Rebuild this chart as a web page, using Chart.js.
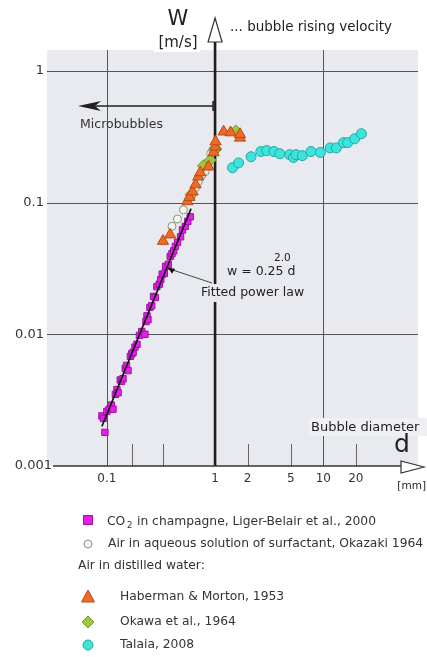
<!DOCTYPE html>
<html>
<head>
<meta charset="utf-8">
<script src="https://cdn.jsdelivr.net/npm/chart.js@4/dist/chart.umd.min.js"></script>
<style>
  body { margin: 0; background: #fff; }
  #wrap { width: 427px; height: 657px; }
</style>
</head>
<body>
<div id="wrap"><canvas id="bubbleChart" width="427" height="657"></canvas></div>
<script>
// values (d in mm, w in m/s)
const co2D = [0.090, 0.093, 0.096, 0.100, 0.105, 0.110, 0.114, 0.120, 0.124, 0.127, 0.133, 0.137, 0.141, 0.148, 0.152, 0.157, 0.165, 0.170, 0.175, 0.182, 0.19, 0.20, 0.21, 0.225, 0.23, 0.235, 0.24, 0.25, 0.26, 0.27, 0.28, 0.29, 0.305, 0.315, 0.325, 0.34, 0.35, 0.37, 0.385, 0.40, 0.415, 0.43, 0.45, 0.48, 0.50, 0.53, 0.56, 0.59];
const co2W = [0.0024, 0.0023, 0.0018, 0.0026, 0.0027, 0.0029, 0.0027, 0.0035, 0.0038, 0.0036, 0.0045, 0.0044, 0.0046, 0.0055, 0.0058, 0.0053, 0.0068, 0.0071, 0.0073, 0.0080, 0.0084, 0.0098, 0.0105, 0.0100, 0.0125, 0.0138, 0.0129, 0.0160, 0.0165, 0.0194, 0.0190, 0.0230, 0.0240, 0.0260, 0.0286, 0.0290, 0.0328, 0.0340, 0.0390, 0.0410, 0.0430, 0.0465, 0.0500, 0.0550, 0.0620, 0.0660, 0.0720, 0.0780];

const okazakiD = [0.40, 0.45, 0.51, 0.60, 0.66, 0.70, 0.76, 0.81, 0.87, 0.91, 0.95];
const okazakiW = [0.066, 0.075, 0.088, 0.11, 0.13, 0.144, 0.163, 0.172, 0.20, 0.235, 0.25];

const habermanD = [0.33, 0.385, 0.555, 0.58, 0.62, 0.66, 0.70, 0.73, 0.87, 0.97, 1.0, 1.01, 1.2, 1.39, 1.7, 1.7];
const habermanW = [0.051, 0.057, 0.102, 0.11, 0.121, 0.137, 0.157, 0.169, 0.187, 0.24, 0.265, 0.29, 0.345, 0.34, 0.31, 0.33];

const okawaD = [0.60, 0.78, 0.90, 1.02, 1.55];
const okawaW = [0.115, 0.19, 0.21, 0.255, 0.35];

const talaiaD = [1.45, 1.65, 2.15, 2.65, 3.0, 3.5, 3.97, 4.9, 5.3, 5.6, 6.4, 7.7, 9.4, 11.6, 13.2, 15.4, 16.8, 19.5, 22.5];
const talaiaW = [0.184, 0.20, 0.223, 0.244, 0.248, 0.244, 0.235, 0.231, 0.22, 0.231, 0.227, 0.244, 0.24, 0.26, 0.26, 0.285, 0.285, 0.305, 0.333];

// fitted power law w = 0.25 d^2, end points
const fitD = [0.09, 0.6];
const fitW = [0.002, 0.09];

const xTickVals = [0.1, 1, 2, 5, 10, 20];
const xTickLabels = ['0.1', '1', '2', '5', '10', '20'];
const xMinorTicks = [0.17, 0.33, 2, 5, 20];
const yTickVals = [1, 0.1, 0.01, 0.001];
const yTickLabels = ['1', '0.1', '0.01', '0.001'];
const xGrid = [0.1, 10];
const yGrid = [1, 0.1, 0.01];

const FONT = '"DejaVu Sans", sans-serif';
const PLOT_BG = '#e8eaf0';

function pts(xs, ys) {
    return xs.map((x, i) => ({ x: x, y: ys[i] }));
}

function txt(ctx, s, x, y, size, align, color) {
    ctx.font = size + 'px ' + FONT;
    ctx.textAlign = align || 'left';
    ctx.textBaseline = 'middle';
    ctx.fillStyle = color || '#333';
    ctx.fillText(s, x, y);
}

function marker(ctx, kind, x, y) {
    ctx.save();
    ctx.lineWidth = 1;
    ctx.beginPath();
    if (kind === 'rect') {
        ctx.fillStyle = '#e81ee8'; ctx.strokeStyle = '#a010a8';
        ctx.rect(x - 4.5, y - 4.5, 9, 9);
    } else if (kind === 'okazaki') {
        ctx.fillStyle = '#f3f7ee'; ctx.strokeStyle = '#7f977a';
        ctx.arc(x, y, 4, 0, Math.PI * 2);
    } else if (kind === 'tri') {
        ctx.fillStyle = '#ef6a22'; ctx.strokeStyle = '#b8481c';
        ctx.moveTo(x, y - 7); ctx.lineTo(x + 6.5, y + 5); ctx.lineTo(x - 6.5, y + 5); ctx.closePath();
    } else if (kind === 'diamond') {
        ctx.fillStyle = '#9bc63e'; ctx.strokeStyle = '#76a02c';
        ctx.moveTo(x, y - 6); ctx.lineTo(x + 6, y); ctx.lineTo(x, y + 6); ctx.lineTo(x - 6, y); ctx.closePath();
    } else {
        ctx.fillStyle = '#3ee3dc'; ctx.strokeStyle = '#1fa9a6';
        ctx.arc(x, y, 5, 0, Math.PI * 2);
    }
    ctx.fill();
    ctx.stroke();
    ctx.restore();
}

const framePlugin = {
    id: 'frame',
    beforeDraw(chart) {
        const ctx = chart.ctx, a = chart.chartArea;
        const xs = chart.scales.x, ys = chart.scales.y;
        ctx.save();
        ctx.fillStyle = '#fff';
        ctx.fillRect(0, 0, chart.width, chart.height);
        ctx.fillStyle = PLOT_BG;
        ctx.fillRect(a.left, a.top, a.right - a.left, a.bottom - a.top);

        ctx.strokeStyle = '#555';
        ctx.lineWidth = 1;
        yGrid.forEach(v => {
            const y = Math.round(ys.getPixelForValue(v)) + 0.5;
            ctx.beginPath(); ctx.moveTo(a.left, y); ctx.lineTo(a.right, y); ctx.stroke();
        });
        xGrid.forEach(v => {
            const x = Math.round(xs.getPixelForValue(v)) + 0.5;
            ctx.beginPath(); ctx.moveTo(x, a.top); ctx.lineTo(x, a.bottom); ctx.stroke();
        });
        // short ticks above the d axis
        ctx.strokeStyle = '#666';
        xMinorTicks.forEach(v => {
            const x = Math.round(xs.getPixelForValue(v)) + 0.5;
            ctx.beginPath(); ctx.moveTo(x, a.bottom - 22); ctx.lineTo(x, a.bottom); ctx.stroke();
        });
        ctx.restore();
    },
    beforeDatasetsDraw(chart) {
        const ctx = chart.ctx, a = chart.chartArea;
        const xs = chart.scales.x;
        const x1 = xs.getPixelForValue(1);
        ctx.save();
        // vertical w axis at d = 1
        ctx.strokeStyle = '#1e1e1e';
        ctx.lineWidth = 2.6;
        ctx.beginPath(); ctx.moveTo(x1, a.bottom); ctx.lineTo(x1, 30); ctx.stroke();
        ctx.restore();
    },
    afterDatasetsDraw(chart) {
        const ctx = chart.ctx;
        const xs = chart.scales.x, ys = chart.scales.y;
        const x1 = xs.getPixelForValue(1);
        const y0 = ys.getPixelForValue(0.001);
        ctx.save();

        // open arrow head on w axis
        ctx.fillStyle = '#fff';
        ctx.strokeStyle = '#333';
        ctx.lineWidth = 1.2;
        ctx.beginPath();
        ctx.moveTo(x1, 18); ctx.lineTo(x1 + 7, 42); ctx.lineTo(x1 - 7, 42); ctx.closePath();
        ctx.fill(); ctx.stroke();

        // d axis with open arrow
        ctx.strokeStyle = '#333';
        ctx.lineWidth = 1.5;
        ctx.beginPath(); ctx.moveTo(53, y0); ctx.lineTo(401, y0); ctx.stroke();
        ctx.lineWidth = 1.2;
        ctx.beginPath();
        ctx.moveTo(424, y0 + 1); ctx.lineTo(401, y0 - 5); ctx.lineTo(401, y0 + 7); ctx.closePath();
        ctx.fill(); ctx.stroke();

        // tick labels
        xTickVals.forEach((v, i) => txt(ctx, xTickLabels[i], xs.getPixelForValue(v), 479, 12, 'center', '#333'));
        yTickVals.forEach((v, i) => {
            const right = v === 0.001 ? 52 : 44;
            txt(ctx, yTickLabels[i], right, ys.getPixelForValue(v), 13, 'right', '#333');
        });

        // axis titles
        ctx.fillStyle = '#fff';
        ctx.fillRect(154, 30, 46, 22);
        txt(ctx, 'W', 178, 20, 21, 'center', '#222');
        txt(ctx, '[m/s]', 178, 43, 15, 'center', '#222');
        txt(ctx, '... bubble rising velocity', 230, 27, 13.5, 'left', '#222');

        ctx.fillStyle = '#eff0f3';
        ctx.fillRect(309, 418, 118, 18);
        txt(ctx, 'Bubble diameter', 311, 428, 13, 'left', '#222');
        txt(ctx, 'd', 402, 445, 25, 'center', '#222');
        txt(ctx, '[mm]', 426, 486, 10.5, 'right', '#222');

        // microbubbles arrow
        const yArr = 106;
        ctx.strokeStyle = '#222';
        ctx.fillStyle = '#222';
        ctx.lineWidth = 1.6;
        ctx.beginPath(); ctx.moveTo(84, yArr); ctx.lineTo(x1 - 2, yArr); ctx.stroke();
        ctx.beginPath(); ctx.moveTo(x1 - 2, yArr - 5); ctx.lineTo(x1 - 2, yArr + 5); ctx.stroke();
        ctx.beginPath();
        ctx.moveTo(78, yArr); ctx.lineTo(101, yArr - 5); ctx.lineTo(95, yArr); ctx.lineTo(101, yArr + 5); ctx.closePath();
        ctx.fill();
        txt(ctx, 'Microbubbles', 80, 125, 12.5, 'left', '#333');

        // fitted power law note
        ctx.fillStyle = PLOT_BG;
        ctx.fillRect(199, 284, 106, 18);
        ctx.strokeStyle = '#444';
        ctx.lineWidth = 1;
        const px = xs.getPixelForValue(0.36), py = ys.getPixelForValue(0.032);
        ctx.beginPath(); ctx.moveTo(px + 2, py + 1); ctx.lineTo(212, 283); ctx.stroke();
        ctx.fillStyle = '#111';
        ctx.beginPath();
        ctx.moveTo(px + 1, py); ctx.lineTo(px + 8, py + 1); ctx.lineTo(px + 5, py + 6); ctx.closePath();
        ctx.fill();
        txt(ctx, 'w = 0.25 d', 227, 272, 12.5, 'left', '#222');
        txt(ctx, '2.0', 274, 258, 10.5, 'left', '#222');
        txt(ctx, 'Fitted power law', 201, 293, 12.5, 'left', '#222');

        // legend
        const mx = 88;
        const fs = 12.3;
        marker(ctx, 'rect', mx, 520);
        txt(ctx, 'CO', 107, 522, fs, 'left', '#333');
        txt(ctx, '2', 127, 526, 8.5, 'left', '#333');
        txt(ctx, 'in champagne, Liger-Belair et al., 2000', 137, 522, fs, 'left', '#333');
        marker(ctx, 'okazaki', mx, 544);
        txt(ctx, 'Air in aqueous solution of surfactant, Okazaki 1964', 108, 544, fs, 'left', '#333');
        txt(ctx, 'Air in distilled water:', 78, 566, fs, 'left', '#333');
        marker(ctx, 'tri', mx, 597);
        txt(ctx, 'Haberman & Morton, 1953', 120, 597, fs, 'left', '#333');
        marker(ctx, 'diamond', mx, 622);
        txt(ctx, 'Okawa et al., 1964', 120, 622, fs, 'left', '#333');
        marker(ctx, 'cyan', mx, 645);
        txt(ctx, 'Talaia, 2008', 120, 645, fs, 'left', '#333');

        ctx.restore();
    }
};

const ctx = document.getElementById('bubbleChart').getContext('2d');

new Chart(ctx, {
    type: 'scatter',
    data: {
        datasets: [
            {
                label: 'w = 0.25 d^2.0',
                data: pts(fitD, fitW),
                showLine: true,
                borderColor: '#111',
                borderWidth: 1.6,
                pointRadius: 0
            },
            {
                label: 'Haberman & Morton, 1953',
                data: pts(habermanD, habermanW),
                pointStyle: 'triangle',
                pointRadius: 6.5,
                backgroundColor: '#ef6a22',
                borderColor: '#b8481c',
                borderWidth: 1
            },
            {
                label: 'Okawa et al., 1964',
                data: pts(okawaD, okawaW),
                pointStyle: 'rectRot',
                pointRadius: 6,
                backgroundColor: '#9bc63e',
                borderColor: '#76a02c',
                borderWidth: 1
            },
            {
                label: 'Air in aqueous solution of surfactant, Okazaki 1964',
                data: pts(okazakiD, okazakiW),
                pointStyle: 'circle',
                pointRadius: 4,
                backgroundColor: '#f3f7ee',
                borderColor: '#7f977a',
                borderWidth: 1
            },
            {
                label: 'CO2 in champagne, Liger-Belair et al., 2000',
                data: pts(co2D, co2W),
                pointStyle: 'rect',
                pointRadius: 4.5,
                backgroundColor: '#e81ee8',
                borderColor: '#a010a8',
                borderWidth: 1
            },
            {
                label: 'Talaia, 2008',
                data: pts(talaiaD, talaiaW),
                pointStyle: 'circle',
                pointRadius: 5,
                backgroundColor: '#3ee3dc',
                borderColor: '#1fa9a6',
                borderWidth: 1
            }
        ]
    },
    options: {
        responsive: false,
        animation: false,
        layout: { padding: { left: 47, right: 9, top: 50, bottom: 191 } },
        scales: {
            x: { type: 'logarithmic', min: 0.028, max: 75, bounds: 'data', display: false },
            y: { type: 'logarithmic', min: 0.001, max: 1.44, bounds: 'data', display: false }
        },
        plugins: {
            legend: { display: false },
            tooltip: { enabled: false }
        }
    },
    plugins: [framePlugin]
});
</script>
</body>
</html>
